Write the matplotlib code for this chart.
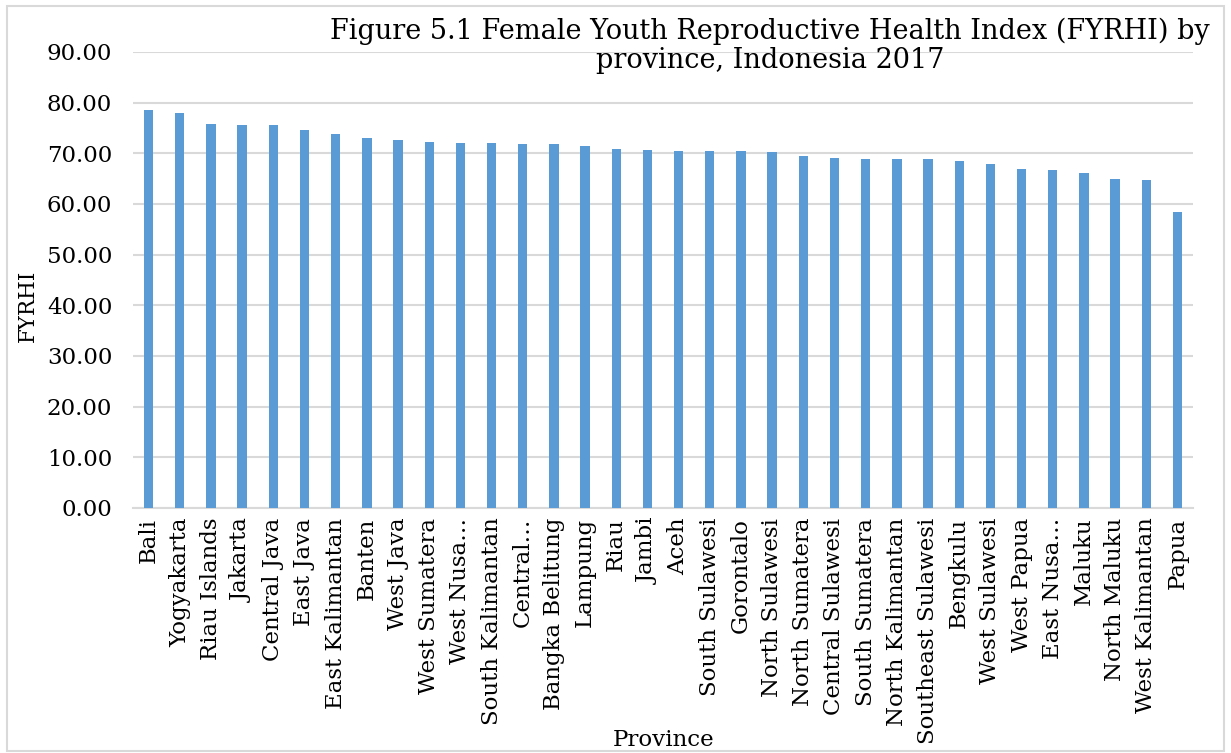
import matplotlib
matplotlib.use("Agg")
import matplotlib.pyplot as plt
from matplotlib.patches import Rectangle

provinces = [
    "Bali", "Yogyakarta", "Riau Islands", "Jakarta", "Central Java", "East Java",
    "East Kalimantan", "Banten", "West Java", "West Sumatera", "West Nusa…",
    "South Kalimantan", "Central…", "Bangka Belitung", "Lampung", "Riau", "Jambi",
    "Aceh", "South Sulawesi", "Gorontalo", "North Sulawesi", "North Sumatera",
    "Central Sulawesi", "South Sumatera", "North Kalimantan", "Southeast Sulawesi",
    "Bengkulu", "West Sulawesi", "West Papua", "East Nusa…", "Maluku",
    "North Maluku", "West Kalimantan", "Papua",
]
fyrhi = [
    78.65, 77.9, 75.8, 75.6, 75.5, 74.6, 73.8, 73.0, 72.7, 72.3, 72.0,
    72.0, 71.8, 71.8, 71.4, 70.9, 70.7, 70.5, 70.5, 70.4, 70.2, 69.4,
    69.0, 68.9, 68.8, 68.8, 68.4, 67.8, 66.9, 66.7, 66.1, 65.0, 64.8, 58.5,
]
yticks = [0, 10, 20, 30, 40, 50, 60, 70, 80, 90]

plt.rcParams["font.family"] = ["DejaVu Serif"]

fig = plt.figure(figsize=(12.31, 7.53), dpi=100)
ax = fig.add_axes([133 / 1231, 1 - 508 / 753, (1193 - 133) / 1231, (508 - 52) / 753])

x = range(len(provinces))
ax.bar(x, fyrhi, width=0.3, color="#5B9BD5", zorder=3)

ax.set_ylim(0, 90)
ax.set_xlim(-0.5, len(provinces) - 0.5)
ax.set_yticks(yticks)
ax.set_yticklabels([f"{v:.2f}" for v in yticks], fontsize=16.5)
ax.set_xticks(list(x))
ax.set_xticklabels(provinces, rotation=90, fontsize=16.5)
ax.tick_params(axis="y", length=0, pad=15)
ax.tick_params(axis="x", length=0, pad=7)
ax.grid(axis="y", color="#D9D9D9", linewidth=1.5, zorder=0)
for side in ["top", "right", "left"]:
    ax.spines[side].set_visible(False)
ax.spines["bottom"].set_color("#D9D9D9")
ax.spines["bottom"].set_linewidth(1.5)

fig.text(28 / 1231, 1 - 306 / 753, "FYRHI", rotation=90, ha="center", va="center",
         fontsize=15.5)
fig.text(664 / 1231, 1 - 740 / 753, "Province", ha="center", va="center", fontsize=16.5)

fig.text(770 / 1231, 1 - 46 / 753,
         "Figure 5.1 Female Youth Reproductive Health Index (FYRHI) by\nprovince, Indonesia 2017",
         ha="center", va="center", fontsize=19.5, linespacing=1.1)

fig.patches.append(Rectangle((0.006, 0.002), 0.988, 0.99, transform=fig.transFigure,
                             fill=False, edgecolor="#D9D9D9", linewidth=1.5))

fig.savefig("out.png", dpi=100)
